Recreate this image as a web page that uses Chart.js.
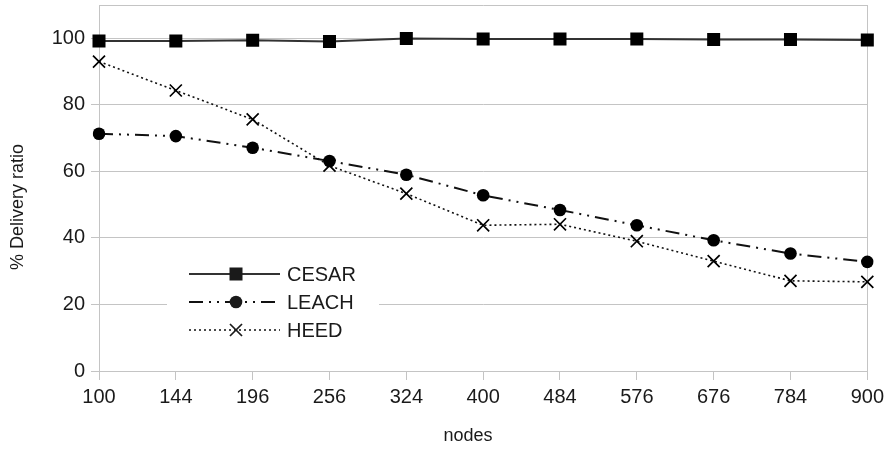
<!DOCTYPE html>
<html>
<head>
<meta charset="utf-8">
<script src="https://cdn.jsdelivr.net/npm/chart.js@4.4.0/dist/chart.umd.min.js"></script>
<style>
  html, body { margin: 0; padding: 0; background: #fff; overflow: hidden; }
  #wrap { width: 889px; height: 449px; overflow: hidden; }
  #chart { display: block; }
</style>
</head>
<body>
<div id="wrap"><canvas id="chart" width="889" height="455"></canvas></div>
<script>
const nodes = ['100', '144', '196', '256', '324', '400', '484', '576', '676', '784', '900'];
const cesar = [99.2, 99.2, 99.4, 99.0, 99.9, 99.8, 99.8, 99.8, 99.6, 99.6, 99.5];
const leach = [71.3, 70.6, 67.1, 63.1, 59.0, 52.8, 48.4, 43.8, 39.3, 35.3, 32.8];
const heed = [93.0, 84.3, 75.6, 61.7, 53.3, 43.8, 44.1, 39.0, 33.0, 27.1, 26.8];
const yTicks = [0, 20, 40, 60, 80, 100];
const xTitle = 'nodes';
const yTitle = '% Delivery ratio';

const GRID = '#c4c4c4';
const INK = '#1a1a1a';
const FAMILY = '"Liberation Sans", Arial, sans-serif';

/* legend drawn inside the plot, with line samples like the original */
const innerLegend = {
    id: 'innerLegend',
    afterDatasetsDraw(chart) {
        const c = chart.ctx;
        const a = chart.chartArea;
        const x0 = a.left + 68, x1 = a.left + 280;
        const top = a.top + 252, rowH = 28;
        c.save();
        c.fillStyle = '#fff';
        c.fillRect(x0, top, x1 - x0, rowH * 3 + 4);
        chart.data.datasets.forEach((ds, i) => {
            const y = top + 17 + i * rowH;
            const lx0 = x0 + 22, lx1 = x0 + 113, mx = x0 + 69;
            c.strokeStyle = ds.borderColor;
            c.lineWidth = ds.borderWidth;
            c.setLineDash(ds.borderDash || []);
            c.beginPath(); c.moveTo(lx0, y); c.lineTo(lx1, y); c.stroke();
            c.setLineDash([]);
            c.fillStyle = INK;
            c.strokeStyle = INK;
            const r = ds.pointRadius;
            const h = r * Math.SQRT1_2;
            if (ds.pointStyle === 'rect') {
                c.fillRect(mx - h, y - h, h * 2, h * 2);
            } else if (ds.pointStyle === 'circle') {
                c.beginPath(); c.arc(mx, y, r, 0, Math.PI * 2); c.fill();
            } else {
                c.lineWidth = ds.pointBorderWidth;
                c.beginPath();
                c.moveTo(mx - h, y - h); c.lineTo(mx + h, y + h);
                c.moveTo(mx + h, y - h); c.lineTo(mx - h, y + h);
                c.stroke();
            }
            c.fillStyle = INK;
            c.font = '20px ' + FAMILY;
            c.textBaseline = 'middle';
            c.textAlign = 'left';
            c.fillText(ds.label, x0 + 120, y + 1);
        });
        c.restore();
    }
};

/* axis titles, placed where the original has them (not quite centred) */
const axisTitles = {
    id: 'axisTitles',
    afterDraw(chart) {
        const c = chart.ctx;
        const a = chart.chartArea;
        c.save();
        c.fillStyle = INK;
        c.font = '18px ' + FAMILY;
        c.textAlign = 'center';
        c.textBaseline = 'middle';
        c.fillText(xTitle, a.left + 369, a.bottom + 65);
        c.translate(18, a.top + 202);
        c.rotate(-Math.PI / 2);
        c.fillText(yTitle, 0, 0);
        c.restore();
    }
};

const makeConfig = () => ({
    type: 'line',
    data: {
        labels: nodes,
        datasets: [
            {
                label: 'CESAR', data: cesar,
                borderColor: '#333', borderWidth: 2,
                pointStyle: 'rect', pointRadius: 9.2,
                pointBackgroundColor: '#000', pointBorderColor: '#000', pointBorderWidth: 0
            },
            {
                label: 'LEACH', data: leach,
                borderColor: '#111', borderWidth: 2, borderDash: [14, 6, 2, 6, 2, 6],
                pointStyle: 'circle', pointRadius: 6.3,
                pointBackgroundColor: '#000', pointBorderColor: '#000', pointBorderWidth: 0
            },
            {
                label: 'HEED', data: heed,
                borderColor: '#111', borderWidth: 1.6, borderDash: [2, 3],
                pointStyle: 'crossRot', pointRadius: 8.5,
                pointBackgroundColor: '#000', pointBorderColor: '#000', pointBorderWidth: 1.7
            }
        ]
    },
    options: {
        responsive: false,
        maintainAspectRatio: false,
        animation: false,
        devicePixelRatio: 1,
        layout: { padding: { top: 5, right: 21, left: 0, bottom: 0 } },
        plugins: { legend: { display: false }, tooltip: { enabled: false } },
        elements: { line: { tension: 0 } },
        scales: {
            x: {
                offset: false,
                grid: {
                    color: ctx => ctx.index === nodes.length - 1 ? GRID : 'transparent',
                    tickColor: GRID, tickLength: 9
                },
                border: { color: GRID },
                ticks: {
                    color: INK, padding: 5, maxRotation: 0, autoSkip: false,
                    font: { family: FAMILY, size: 20 }
                },
                afterFit: s => { s.height = 78; }
            },
            y: {
                min: 0, max: 110,
                afterBuildTicks: s => {
                    s.ticks = yTicks.map(v => ({ value: v })).concat([{ value: 110 }]);
                },
                grid: {
                    color: GRID,
                    tickColor: ctx => ctx.tick && ctx.tick.value === 110 ? 'transparent' : GRID,
                    tickLength: 8
                },
                border: { color: GRID },
                ticks: {
                    color: INK, padding: 6,
                    callback: v => v === 110 ? '' : v,
                    font: { family: FAMILY, size: 20 }
                },
                afterFit: s => { s.width = 99; }
            }
        }
    },
    plugins: [innerLegend, axisTitles]
});

/* chart.js reserves room above the top tick; size the canvas so the plot runs
   from y=5 to y=371 like the original, then pull it up by the extra space */
const canvas = document.getElementById('chart');
const SPAN = 366;
let H = 455, chart;
for (let k = 0; k < 4; k++) {
    canvas.height = H;
    canvas.style.height = H + 'px';
    chart = new Chart(canvas, makeConfig());
    const a = chart.chartArea;
    const err = SPAN - (a.bottom - a.top);
    if (Math.abs(err) < 0.6 || k === 3) break;
    chart.destroy();
    H = Math.min(490, Math.max(449, H + Math.round(err)));
}
canvas.style.marginTop = (5 - chart.chartArea.top) + 'px';
</script>
</body>
</html>
